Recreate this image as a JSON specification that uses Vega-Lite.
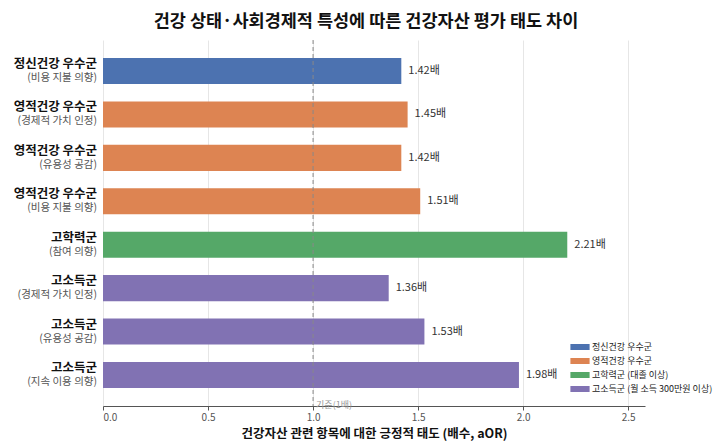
{
  "$schema": "https://vega.github.io/schema/vega-lite/v6.json",
  "width": 542,
  "height": 366,
  "autosize": {"type": "none"},
  "padding": {"left": 103, "top": 40, "right": 75, "bottom": 38},
  "background": "white",
  "title": {
    "text": "건강 상태·사회경제적 특성에 따른 건강자산 평가 태도 차이",
    "font": "Noto Sans CJK KR",
    "fontSize": 17.5,
    "fontWeight": "bold",
    "color": "#111",
    "anchor": "middle",
    "dx": -8,
    "offset": 9
  },
  "data": {
    "values": [
      {"key": "1", "main": "정신건강 우수군", "sub": "(비용 지불 의향)", "group": "정신건강 우수군", "value": 1.42, "lab": "1.42배"},
      {"key": "2", "main": "영적건강 우수군", "sub": "(경제적 가치 인정)", "group": "영적건강 우수군", "value": 1.45, "lab": "1.45배"},
      {"key": "3", "main": "영적건강 우수군", "sub": "(유용성 공감)", "group": "영적건강 우수군", "value": 1.42, "lab": "1.42배"},
      {"key": "4", "main": "영적건강 우수군", "sub": "(비용 지불 의향)", "group": "영적건강 우수군", "value": 1.51, "lab": "1.51배"},
      {"key": "5", "main": "고학력군", "sub": "(참여 의향)", "group": "고학력군 (대졸 이상)", "value": 2.21, "lab": "2.21배"},
      {"key": "6", "main": "고소득군", "sub": "(경제적 가치 인정)", "group": "고소득군 (월 소득 300만원 이상)", "value": 1.36, "lab": "1.36배"},
      {"key": "7", "main": "고소득군", "sub": "(유용성 공감)", "group": "고소득군 (월 소득 300만원 이상)", "value": 1.53, "lab": "1.53배"},
      {"key": "8", "main": "고소득군", "sub": "(지속 이용 의향)", "group": "고소득군 (월 소득 300만원 이상)", "value": 1.98, "lab": "1.98배"}
    ]
  },
  "layer": [
    {
      "mark": {"type": "bar"},
      "encoding": {
        "y": {
          "field": "key",
          "type": "nominal",
          "sort": null,
          "axis": null,
          "scale": {"paddingInner": 0.4, "paddingOuter": 0.414}
        },
        "x": {
          "field": "value",
          "type": "quantitative",
          "scale": {"domain": [0, 2.58], "nice": false, "zero": true},
          "axis": {
            "values": [0, 0.5, 1, 1.5, 2, 2.5],
            "format": ".1f",
            "title": "건강자산 관련 항목에 대한 긍정적 태도 (배수, aOR)",
            "titleFont": "Noto Sans CJK KR",
            "titleFontSize": 12.5,
            "titleFontWeight": "bold",
            "titleColor": "#111",
            "titlePadding": 5,
            "labelFont": "Noto Sans CJK KR",
            "labelFontSize": 10,
            "labelColor": "#555",
            "domainColor": "#555",
            "tickColor": "#555",
            "tickSize": 4,
            "grid": true,
            "gridColor": "#e6e6e6"
          }
        },
        "color": {
          "field": "group",
          "type": "nominal",
          "scale": {
            "domain": ["정신건강 우수군", "영적건강 우수군", "고학력군 (대졸 이상)", "고소득군 (월 소득 300만원 이상)"],
            "range": ["#4C72B0", "#DD8452", "#55A868", "#8172B3"]
          },
          "legend": {
            "title": null,
            "orient": "none",
            "legendX": 471,
            "legendY": 301,
            "padding": 0,
            "symbolType": "M-1.6,-0.5H1.6V0.5H-1.6Z",
            "symbolSize": 144,
            "symbolStrokeWidth": 0,
            "symbolOpacity": 1,
            "labelOffset": 6,
            "rowPadding": 3,
            "labelFont": "Noto Sans CJK KR",
            "labelFontSize": 9,
            "labelColor": "#222",
            "labelLimit": 300
          }
        }
      }
    },
    {
      "mark": {"type": "text", "align": "left", "baseline": "middle", "dx": 7, "font": "Noto Sans CJK KR", "fontSize": 11, "color": "#333"},
      "encoding": {
        "y": {"field": "key", "type": "nominal", "sort": null},
        "x": {"field": "value", "type": "quantitative"},
        "text": {"field": "lab"}
      }
    },
    {
      "mark": {"type": "text", "align": "right", "baseline": "middle", "dx": -6, "dy": -7, "font": "Noto Sans CJK KR", "fontSize": 12.5, "fontWeight": "bold", "color": "#111"},
      "encoding": {
        "y": {"field": "key", "type": "nominal", "sort": null},
        "x": {"datum": 0, "type": "quantitative"},
        "text": {"field": "main"}
      }
    },
    {
      "mark": {"type": "text", "align": "right", "baseline": "middle", "dx": -6, "dy": 7, "font": "Noto Sans CJK KR", "fontSize": 10.5, "color": "#555"},
      "encoding": {
        "y": {"field": "key", "type": "nominal", "sort": null},
        "x": {"datum": 0, "type": "quantitative"},
        "text": {"field": "sub"}
      }
    },
    {
      "data": {"values": [{"ref": 1, "t": "기준(1배)"}]},
      "mark": {"type": "rule", "color": "#888", "strokeDash": [4, 3], "strokeWidth": 1},
      "encoding": {
        "x": {"field": "ref", "type": "quantitative"}
      }
    },
    {
      "data": {"values": [{"ref": 1, "t": "기준(1배)"}]},
      "mark": {"type": "text", "align": "left", "baseline": "middle", "dx": 3, "dy": -1, "font": "Noto Sans CJK KR", "fontSize": 9, "color": "#999"},
      "encoding": {
        "x": {"field": "ref", "type": "quantitative"},
        "y": {"value": {"expr": "height"}},
        "text": {"field": "t"}
      }
    }
  ],
  "config": {
    "view": {"stroke": null}
  }
}
